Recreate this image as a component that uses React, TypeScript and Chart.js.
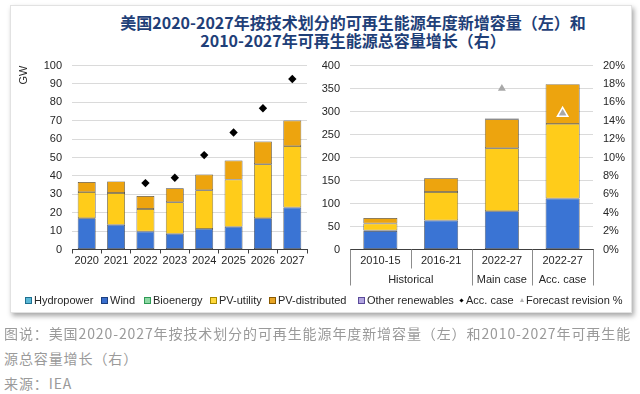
import React, { useEffect, useRef } from 'react';
import { Chart, registerables } from 'chart.js';

Chart.register(...registerables);

// ---------- data ----------
const years = ['2020', '2021', '2022', '2023', '2024', '2025', '2026', '2027'];
const windAnnual = [17, 13.4, 9.8, 8.5, 11.2, 12.3, 17, 22.8];
const pvUtilityAnnual = [14.2, 17.3, 12.2, 17.2, 21, 25.7, 29.3, 33.4];
const pvDistributedAnnual = [5.5, 6.3, 7.1, 7.6, 8.6, 10.4, 12.4, 13.9];
const accCaseAnnual = [null, null, 36.1, 39.0, 51.3, 63.6, 76.8, 92.7];

const periods = ['2010-15', '2016-21', '2022-27', '2022-27'];
const periodGroups = ['Historical', 'Historical', 'Main case', 'Acc. case'];
const windTotal = [40, 63, 83, 111];
const bioenergyTotal = [1.5, null, null, null];
const pvUtilityTotal = [15, 62, 137, 162];
const pvDistributedTotal = [12, 30, 63, 86.5];
const otherTotal = [null, null, 2, null];
const forecastRevision = [null, null, 17.5, 14.8];

const titleLines = [
  '美国2020-2027年按技术划分的可再生能源年度新增容量（左）和',
  '2010-2027年可再生能源总容量增长（右）',
];
const captionLines = [
  '图说：美国2020-2027年按技术划分的可再生能源年度新增容量（左）和2010-2027年可再生能',
  '源总容量增长（右）',
  '来源：IEA',
];
const legendItems = [
  { label: 'Hydropower', kind: 'box', fill: '#5bb8d6', stroke: '#1f6f8f', x: 25 },
  { label: 'Wind', kind: 'box', fill: '#3a6fce', stroke: '#1c3f80', x: 101 },
  { label: 'Bioenergy', kind: 'box', fill: '#8ed8a4', stroke: '#2f9a55', x: 144 },
  { label: 'PV-utility', kind: 'box', fill: '#ffd83a', stroke: '#a88a00', x: 210 },
  { label: 'PV-distributed', kind: 'box', fill: '#e8a526', stroke: '#8a5a00', x: 269 },
  { label: 'Other renewables', kind: 'box', fill: '#b3a6e0', stroke: '#5a4a9a', x: 358 },
  { label: 'Acc. case', kind: 'diamond', fill: '#000', stroke: '#000', x: 459 },
  { label: 'Forecast revision %', kind: 'triangle', fill: '#b0b0b0', stroke: '#b0b0b0', x: 520 },
];

// ---------- style ----------
const FONT = "'Liberation Sans', Arial, Helvetica, sans-serif";
const CJK = "'Noto Sans CJK SC', 'Noto Sans', sans-serif";
const WIND = '#3a74d4';
const PV_UTIL = '#ffcc1a';
const PV_DIST = '#eda40e';
const BIO = '#3fa863';
const OTHER = '#5c3f8c';
const BAR_BORDER = 'rgba(45,45,45,0.9)';
const AXIS = '#404040';
const GRID = '#dadada';
const TEXT = '#262626';

const tickFont = { family: FONT, size: 11 };

const groupPlugin = {
  id: 'groupAxis',
  afterDraw(chart: any) {
    const x = chart.scales.x;
    const ctx = chart.ctx;
    const n = periods.length;
    const edges: number[] = [];
    for (let i = 0; i <= n; i++) {
      if (i === 0) edges.push(x.left);
      else if (i === n) edges.push(x.right);
      else edges.push((x.getPixelForTick(i - 1) + x.getPixelForTick(i)) / 2);
    }
    const top = x.top;
    ctx.save();
    ctx.strokeStyle = '#8c8c8c';
    ctx.lineWidth = 1;
    edges.forEach((px, i) => {
      const same = i > 0 && i < n && periodGroups[i - 1] === periodGroups[i];
      const len = same ? 19 : 36;
      const xx = Math.round(px) + 0.5;
      ctx.beginPath();
      ctx.moveTo(xx, top);
      ctx.lineTo(xx, top + len);
      ctx.stroke();
    });
    ctx.fillStyle = TEXT;
    ctx.font = `11px ${FONT}`;
    ctx.textAlign = 'center';
    ctx.textBaseline = 'middle';
    let i = 0;
    while (i < n) {
      let j = i;
      while (j + 1 < n && periodGroups[j + 1] === periodGroups[i]) j++;
      const cx = (edges[i] + edges[j + 1]) / 2;
      ctx.fillText(periodGroups[i], cx, top + 30);
      i = j + 1;
    }
    ctx.restore();
  },
};

function barSet(label: string, data: (number | null)[], color: string) {
  return {
    type: 'bar' as const,
    label,
    data,
    backgroundColor: color,
    borderColor: BAR_BORDER,
    borderWidth: 0.7,
    borderSkipped: false,
    stack: 'main',
    order: 1,
  };
}

export default function App() {
  const leftRef = useRef<HTMLCanvasElement>(null);
  const rightRef = useRef<HTMLCanvasElement>(null);

  useEffect(() => {
    document.body.style.margin = '0';
    const left = new Chart(leftRef.current as HTMLCanvasElement, {
      type: 'bar',
      data: {
        labels: years,
        datasets: [
          barSet('Wind', windAnnual, WIND),
          barSet('PV-utility', pvUtilityAnnual, PV_UTIL),
          barSet('PV-distributed', pvDistributedAnnual, PV_DIST),
          {
            type: 'line',
            label: 'Acc. case',
            data: accCaseAnnual,
            showLine: false,
            pointStyle: 'rectRot',
            pointRadius: 4.2,
            pointBackgroundColor: '#000',
            pointBorderColor: '#000',
            pointBorderWidth: 0,
            stack: 'acc',
            order: -1,
          } as any,
        ],
      },
      options: {
        responsive: false,
        animation: false,
        layout: { padding: { top: 25.5, right: 13, bottom: 0, left: 0 } },
        plugins: { legend: { display: false }, tooltip: { enabled: false } },
        datasets: { bar: { barPercentage: 0.61, categoryPercentage: 1 } },
        scales: {
          x: {
            stacked: true,
            grid: {
              display: true,
              offset: true,
              drawOnChartArea: false,
              drawTicks: true,
              tickLength: 4,
              color: AXIS,
              tickColor: AXIS,
            },
            border: { display: true, color: AXIS, width: 1 },
            ticks: { font: tickFont, color: TEXT, padding: 1, maxRotation: 0, autoSkip: false },
            afterFit: (s: any) => {
              s.height = 50.5;
            },
          },
          y: {
            stacked: true,
            min: 0,
            max: 100,
            ticks: { stepSize: 10, font: tickFont, color: TEXT, padding: 10 },
            grid: { color: GRID, drawTicks: false },
            border: { display: false },
            title: {
              display: true,
              text: 'GW',
              align: 'end',
              font: tickFont,
              color: TEXT,
              padding: { top: 17, bottom: 0 },
            },
            afterFit: (s: any) => {
              s.width = 72;
            },
          },
        },
      } as any,
    });

    const right = new Chart(rightRef.current as HTMLCanvasElement, {
      type: 'bar',
      data: {
        labels: periods,
        datasets: [
          barSet('Wind', windTotal, WIND),
          barSet('Bioenergy', bioenergyTotal, BIO),
          barSet('PV-utility', pvUtilityTotal, PV_UTIL),
          barSet('PV-distributed', pvDistributedTotal, PV_DIST),
          barSet('Other renewables', otherTotal, OTHER),
          {
            type: 'line',
            label: 'Forecast revision %',
            data: forecastRevision,
            yAxisID: 'y1',
            showLine: false,
            pointStyle: 'triangle',
            pointRadius: [0, 0, 4.6, 6],
            pointBackgroundColor: '#a8a8a8',
            pointBorderColor: ['#a8a8a8', '#a8a8a8', '#a8a8a8', '#ffffff'],
            pointBorderWidth: [0, 0, 0, 1.5],
            stack: 'rev',
            order: -1,
          } as any,
        ],
      },
      options: {
        responsive: false,
        animation: false,
        layout: { padding: { top: 25.5, right: 7, bottom: 0, left: 0 } },
        plugins: { legend: { display: false }, tooltip: { enabled: false } },
        datasets: { bar: { barPercentage: 0.56, categoryPercentage: 1 } },
        scales: {
          x: {
            stacked: true,
            grid: { display: false, drawTicks: false },
            border: { display: true, color: AXIS, width: 1 },
            ticks: { font: tickFont, color: TEXT, padding: 5, maxRotation: 0, autoSkip: false },
            afterFit: (s: any) => {
              s.height = 50.5;
            },
          },
          y: {
            stacked: true,
            min: 0,
            max: 400,
            ticks: { stepSize: 50, font: tickFont, color: TEXT, padding: 10 },
            grid: { color: GRID, drawTicks: false },
            border: { display: false },
            afterFit: (s: any) => {
              s.width = 30;
            },
          },
          y1: {
            position: 'right',
            min: 0,
            max: 20,
            ticks: {
              stepSize: 2,
              font: tickFont,
              color: TEXT,
              padding: 10,
              callback: (v: any) => `${v}%`,
            },
            grid: { display: false, drawTicks: false },
            border: { display: false },
            afterFit: (s: any) => {
              s.width = 40;
            },
          },
        },
      } as any,
      plugins: [groupPlugin],
    });

    return () => {
      left.destroy();
      right.destroy();
    };
  }, []);

  return (
    <div
      style={{
        position: 'fixed',
        left: 0,
        top: 0,
        width: 640,
        height: 394,
        background: '#ffffff',
        overflow: 'hidden',
      }}
    >
      <div
        style={{
          position: 'absolute',
          left: 10,
          top: 5,
          width: 622,
          height: 308,
          boxSizing: 'border-box',
          background: '#fff',
          border: '1px solid #e2e2e2',
          boxShadow: '2px 3px 5px rgba(0,0,0,0.35)',
        }}
      />
      {titleLines.map((t, i) => (
        <div
          key={t}
          style={{
            position: 'absolute',
            left: 0,
            width: 706,
            top: i === 0 ? 11.5 : 30,
            height: 20,
            lineHeight: '20px',
            textAlign: 'center',
            fontFamily: CJK,
            fontWeight: 700,
            fontSize: 16,
            color: '#1f3f78',
            whiteSpace: 'nowrap',
          }}
        >
          {t}
        </div>
      ))}
      <canvas
        ref={leftRef}
        width={320}
        height={260}
        style={{ position: 'absolute', left: 0, top: 40, width: 320, height: 260 }}
      />
      <canvas
        ref={rightRef}
        width={320}
        height={260}
        style={{ position: 'absolute', left: 320, top: 40, width: 320, height: 260 }}
      />
      {legendItems.map((it) => (
        <div
          key={it.label}
          style={{
            position: 'absolute',
            left: it.x,
            top: 293,
            height: 14,
            display: 'flex',
            alignItems: 'center',
            fontFamily: FONT,
            fontSize: 11,
            color: TEXT,
            whiteSpace: 'nowrap',
          }}
        >
          {it.kind === 'box' && (
            <span
              style={{
                display: 'inline-block',
                width: 7,
                height: 7,
                boxSizing: 'border-box',
                background: it.fill,
                border: `1px solid ${it.stroke}`,
                marginRight: 2,
              }}
            />
          )}
          {it.kind === 'diamond' && (
            <span
              style={{
                display: 'inline-block',
                width: 3,
                height: 3,
                background: it.fill,
                transform: 'rotate(45deg)',
                marginLeft: 1,
                marginRight: 3,
              }}
            />
          )}
          {it.kind === 'triangle' && (
            <span
              style={{
                display: 'inline-block',
                width: 0,
                height: 0,
                borderLeft: '2.5px solid transparent',
                borderRight: '2.5px solid transparent',
                borderBottom: `4px solid ${it.fill}`,
                marginRight: 2,
              }}
            />
          )}
          <span>{it.label}</span>
        </div>
      ))}
      {captionLines.map((t, i) => (
        <div
          key={t}
          style={{
            position: 'absolute',
            left: 4,
            top: 322 + i * 25,
            height: 22,
            lineHeight: '22px',
            fontFamily: CJK,
            fontSize: 14,
            letterSpacing: '0.9px',
            color: '#9a9a9a',
            whiteSpace: 'nowrap',
          }}
        >
          {t}
        </div>
      ))}
    </div>
  );
}
